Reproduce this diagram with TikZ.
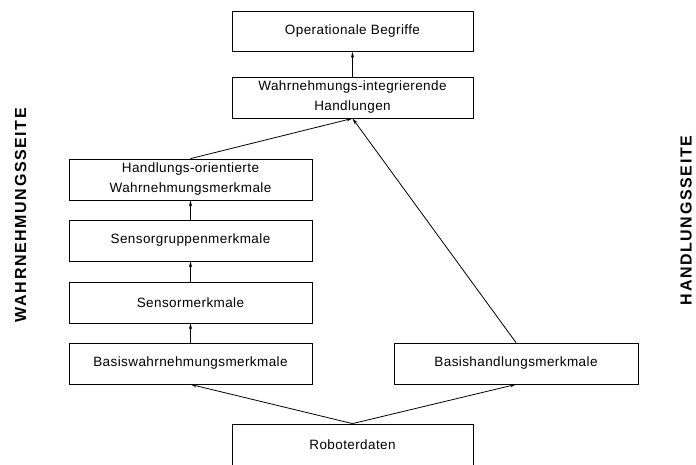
\documentclass[tikz,border=0pt]{standalone}
\usepackage{fontspec}
\setmainfont{Liberation Sans}
\usetikzlibrary{arrows.meta}
\tikzset{
  box/.style={draw, line width=0.8pt, rectangle, minimum width=241pt, minimum height=41pt,
    inner sep=0pt, align=center,
    font=\addfontfeature{LetterSpace=3}\fontsize{13.5}{20}\selectfont},
  conn/.style={line width=0.8pt, -{Stealth[length=6pt,width=3.2pt]}},
  side/.style={inner sep=0pt, rotate=90,
    font=\addfontfeature{LetterSpace=10}\fontsize{16}{18}\selectfont\bfseries}
}
\begin{document}
\begin{tikzpicture}[x=1pt, y=-1pt]
  \useasboundingbox (0,0) rectangle (696,464);
  \clip (0,0) rectangle (696,464);
  % upper chain
  \node[box, minimum height=40pt] (op) at (352.5,31.5) {Operationale Begriffe};
  \node[box] (wih) at (352.5,97.5) {Wahrnehmungs-integrierende\\Handlungen};
  % perception side
  \node[box, minimum width=243pt] (how) at (190.5,179.5) {Handlungs-orientierte\\Wahrnehmungsmerkmale};
  \node[box, minimum width=243pt] (sg) at (190.5,240.5) {Sensorgruppenmerkmale};
  \node[box, minimum width=243pt] (sm) at (190.5,302.5) {Sensormerkmale};
  \node[box, minimum width=243pt] (bwm) at (190.5,363.5) {Basiswahrnehmungsmerkmale};
  % action side
  \node[box, minimum width=244pt] (bhm) at (516,363.5) {Basishandlungsmerkmale};
  % raw data
  \node[box] (rd) at (352.5,444.5) {Roboterdaten};
  % side labels
  \node[side] (lw) at (20.5,215) {WAHRNEHMUNGSSEITE};
  \node[side, anchor=base] (lh) at (691.5,220.5) {HANDLUNGSSEITE};
  % connectors
  \draw[conn] (wih.north) -- (op.south);
  \draw[conn] (how.north) -- (wih.south);
  \draw[conn] (bhm.north) -- (wih.south);
  \draw[conn] (sg.north) -- (how.south);
  \draw[conn] (sm.north) -- (sg.south);
  \draw[conn] (bwm.north) -- (sm.south);
  \draw[conn] (rd.north) -- (bwm.south);
  \draw[conn] (rd.north) -- (bhm.south);
\end{tikzpicture}
\end{document}
